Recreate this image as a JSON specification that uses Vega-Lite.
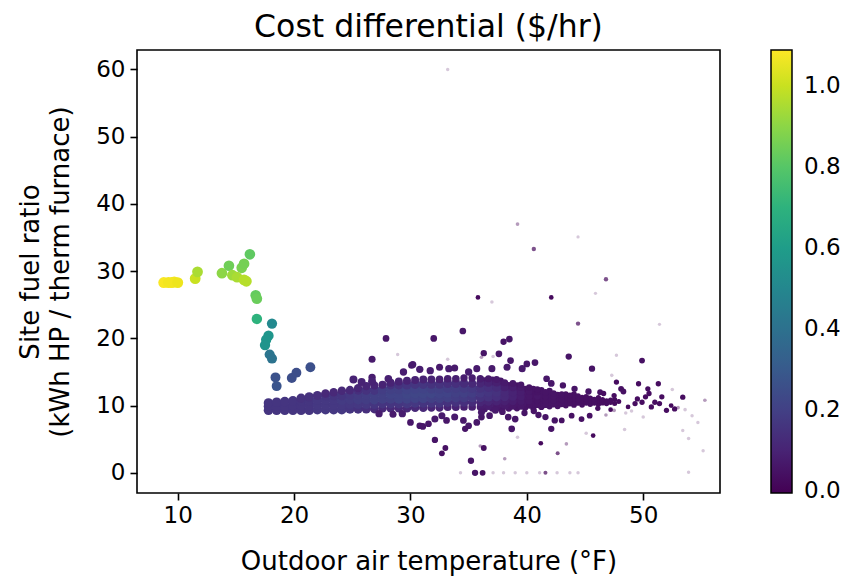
{
"$schema":"https://vega.github.io/schema/vega-lite/v6.json",
"autosize":{"type":"none"},
"width":583,"height":443,
"padding":{"left":137,"top":50,"right":134,"bottom":85},
"background":"white",
"title":{"text":"Cost differential ($/hr)","font":"DejaVu Sans","fontSize":31.5,"fontWeight":"normal","color":"black","anchor":"middle","offset":7},
"config":{
"view":{"stroke":"black","strokeWidth":1.6},
"axis":{"labelFont":"DejaVu Sans","titleFont":"DejaVu Sans","labelFontSize":23,"titleFontSize":26,"titleFontWeight":"normal","labelColor":"black","titleColor":"black","tickColor":"black","tickSize":7,"tickWidth":1.6,"domain":false,"grid":false},
"legend":{"labelFont":"DejaVu Sans","labelFontSize":23,"labelColor":"black"}
},
"data":{"values":[
{"temp":36.35,"ratio":9.5,"cost":0.07},{"temp":36.35,"ratio":10.2,"cost":0.09},{"temp":36.35,"ratio":10.9,"cost":0.13},{"temp":36.35,"ratio":11.6,"cost":0.15},{"temp":36.35,"ratio":12.3,"cost":0.13},{"temp":36.35,"ratio":13.0,"cost":0.09},{"temp":36.35,"ratio":13.7,"cost":0.07},
{"temp":37.05,"ratio":9.6,"cost":0.07},{"temp":37.05,"ratio":10.3,"cost":0.09},{"temp":37.05,"ratio":11.0,"cost":0.12},{"temp":37.05,"ratio":11.7,"cost":0.14},{"temp":37.05,"ratio":12.4,"cost":0.12},{"temp":37.05,"ratio":13.1,"cost":0.08},{"temp":37.05,"ratio":13.8,"cost":0.07},
{"temp":37.75,"ratio":9.6,"cost":0.06},{"temp":37.75,"ratio":10.3,"cost":0.08},{"temp":37.75,"ratio":11.0,"cost":0.11},{"temp":37.75,"ratio":11.7,"cost":0.12},{"temp":37.75,"ratio":12.4,"cost":0.1},{"temp":37.75,"ratio":13.1,"cost":0.07},{"temp":37.75,"ratio":13.7,"cost":0.06},
{"temp":38.45,"ratio":9.6,"cost":0.06},{"temp":38.45,"ratio":10.3,"cost":0.07},{"temp":38.45,"ratio":11.0,"cost":0.09},{"temp":38.45,"ratio":11.7,"cost":0.1},{"temp":38.45,"ratio":12.4,"cost":0.08},{"temp":38.45,"ratio":13.0,"cost":0.06},
{"temp":39.15,"ratio":9.6,"cost":0.05},{"temp":39.15,"ratio":10.3,"cost":0.06},{"temp":39.15,"ratio":11.0,"cost":0.07},{"temp":39.15,"ratio":11.7,"cost":0.08},{"temp":39.15,"ratio":12.4,"cost":0.07},{"temp":39.15,"ratio":13.0,"cost":0.05},
{"temp":39.85,"ratio":9.7,"cost":0.05},{"temp":39.85,"ratio":10.4,"cost":0.06},{"temp":39.85,"ratio":11.1,"cost":0.06},{"temp":39.85,"ratio":11.8,"cost":0.06},{"temp":39.85,"ratio":12.5,"cost":0.05},
{"temp":40.55,"ratio":9.7,"cost":0.05},{"temp":40.55,"ratio":10.4,"cost":0.05},{"temp":40.55,"ratio":11.1,"cost":0.05},{"temp":40.55,"ratio":11.8,"cost":0.05},{"temp":40.55,"ratio":12.5,"cost":0.05},
{"temp":41.25,"ratio":9.8,"cost":0.05},{"temp":41.25,"ratio":10.4,"cost":0.05},{"temp":41.25,"ratio":11.1,"cost":0.05},{"temp":41.25,"ratio":11.7,"cost":0.05},{"temp":41.25,"ratio":12.3,"cost":0.05},
{"temp":41.95,"ratio":9.9,"cost":0.05},{"temp":41.95,"ratio":10.5,"cost":0.05},{"temp":41.95,"ratio":11.1,"cost":0.05},{"temp":41.95,"ratio":11.7,"cost":0.05},{"temp":41.95,"ratio":12.2,"cost":0.05},
{"temp":42.65,"ratio":9.9,"cost":0.045},{"temp":42.65,"ratio":10.5,"cost":0.045},{"temp":42.65,"ratio":11.1,"cost":0.045},{"temp":42.65,"ratio":11.6,"cost":0.045},
{"temp":43.35,"ratio":10.0,"cost":0.04},{"temp":43.35,"ratio":10.6,"cost":0.04},{"temp":43.35,"ratio":11.2,"cost":0.04},{"temp":43.35,"ratio":11.7,"cost":0.04},
{"temp":44.05,"ratio":10.1,"cost":0.04},{"temp":44.05,"ratio":10.6,"cost":0.04},{"temp":44.05,"ratio":11.1,"cost":0.04},{"temp":44.05,"ratio":11.7,"cost":0.04},
{"temp":44.75,"ratio":10.1,"cost":0.035},{"temp":44.75,"ratio":10.7,"cost":0.035},{"temp":44.75,"ratio":11.2,"cost":0.035},
{"temp":45.45,"ratio":10.2,"cost":0.035},{"temp":45.45,"ratio":10.7,"cost":0.035},{"temp":45.45,"ratio":11.1,"cost":0.035},
{"temp":46.15,"ratio":10.2,"cost":0.03},{"temp":46.15,"ratio":10.7,"cost":0.03},{"temp":46.15,"ratio":11.2,"cost":0.03},
{"temp":46.85,"ratio":10.3,"cost":0.03},{"temp":46.85,"ratio":10.7,"cost":0.03},
{"temp":47.55,"ratio":10.3,"cost":0.025},{"temp":47.55,"ratio":10.9,"cost":0.025},
{"temp":17.8,"ratio":9.3,"cost":0.16},{"temp":17.8,"ratio":9.9,"cost":0.16},{"temp":17.8,"ratio":10.4,"cost":0.16},
{"temp":18.5,"ratio":9.3,"cost":0.16},{"temp":18.5,"ratio":9.9,"cost":0.16},{"temp":18.5,"ratio":10.5,"cost":0.16},
{"temp":19.2,"ratio":9.3,"cost":0.16},{"temp":19.2,"ratio":9.9,"cost":0.16},{"temp":19.2,"ratio":10.6,"cost":0.16},
{"temp":19.9,"ratio":9.3,"cost":0.16},{"temp":19.9,"ratio":10.0,"cost":0.16},{"temp":19.9,"ratio":10.7,"cost":0.16},
{"temp":20.6,"ratio":9.3,"cost":0.16},{"temp":20.6,"ratio":10.0,"cost":0.16},{"temp":20.6,"ratio":10.7,"cost":0.16},{"temp":20.6,"ratio":11.1,"cost":0.15},
{"temp":21.3,"ratio":9.3,"cost":0.16},{"temp":21.3,"ratio":10.0,"cost":0.16},{"temp":21.3,"ratio":10.7,"cost":0.16},{"temp":21.3,"ratio":11.3,"cost":0.15},
{"temp":22.0,"ratio":9.4,"cost":0.17},{"temp":22.0,"ratio":10.1,"cost":0.17},{"temp":22.0,"ratio":10.8,"cost":0.17},{"temp":22.0,"ratio":11.5,"cost":0.14},
{"temp":22.7,"ratio":9.4,"cost":0.17},{"temp":22.7,"ratio":10.1,"cost":0.17},{"temp":22.7,"ratio":10.8,"cost":0.17},{"temp":22.7,"ratio":11.5,"cost":0.16},{"temp":22.7,"ratio":11.8,"cost":0.12},
{"temp":23.4,"ratio":9.4,"cost":0.17},{"temp":23.4,"ratio":10.1,"cost":0.17},{"temp":23.4,"ratio":10.8,"cost":0.17},{"temp":23.4,"ratio":11.5,"cost":0.16},{"temp":23.4,"ratio":12.0,"cost":0.12},
{"temp":24.1,"ratio":9.4,"cost":0.17},{"temp":24.1,"ratio":10.1,"cost":0.17},{"temp":24.1,"ratio":10.8,"cost":0.18},{"temp":24.1,"ratio":11.5,"cost":0.16},{"temp":24.1,"ratio":12.2,"cost":0.12},
{"temp":24.8,"ratio":9.5,"cost":0.16},{"temp":24.8,"ratio":10.2,"cost":0.17},{"temp":24.8,"ratio":10.9,"cost":0.18},{"temp":24.8,"ratio":11.6,"cost":0.17},{"temp":24.8,"ratio":12.3,"cost":0.12},
{"temp":25.5,"ratio":9.5,"cost":0.15},{"temp":25.5,"ratio":10.2,"cost":0.17},{"temp":25.5,"ratio":10.9,"cost":0.19},{"temp":25.5,"ratio":11.6,"cost":0.18},{"temp":25.5,"ratio":12.3,"cost":0.14},{"temp":25.5,"ratio":12.6,"cost":0.11},
{"temp":26.2,"ratio":9.5,"cost":0.14},{"temp":26.2,"ratio":10.2,"cost":0.17},{"temp":26.2,"ratio":10.9,"cost":0.19},{"temp":26.2,"ratio":11.6,"cost":0.19},{"temp":26.2,"ratio":12.3,"cost":0.15},{"temp":26.2,"ratio":12.9,"cost":0.11},
{"temp":26.9,"ratio":9.5,"cost":0.13},{"temp":26.9,"ratio":10.2,"cost":0.16},{"temp":26.9,"ratio":10.9,"cost":0.2},{"temp":26.9,"ratio":11.6,"cost":0.2},{"temp":26.9,"ratio":12.3,"cost":0.16},{"temp":26.9,"ratio":13.0,"cost":0.11},
{"temp":27.6,"ratio":9.6,"cost":0.12},{"temp":27.6,"ratio":10.3,"cost":0.16},{"temp":27.6,"ratio":11.0,"cost":0.2},{"temp":27.6,"ratio":11.7,"cost":0.2},{"temp":27.6,"ratio":12.4,"cost":0.19},{"temp":27.6,"ratio":13.1,"cost":0.1},
{"temp":28.3,"ratio":9.6,"cost":0.12},{"temp":28.3,"ratio":10.3,"cost":0.16},{"temp":28.3,"ratio":11.0,"cost":0.2},{"temp":28.3,"ratio":11.7,"cost":0.21},{"temp":28.3,"ratio":12.4,"cost":0.2},{"temp":28.3,"ratio":13.1,"cost":0.15},{"temp":28.3,"ratio":13.4,"cost":0.1},
{"temp":29.0,"ratio":9.6,"cost":0.12},{"temp":29.0,"ratio":10.3,"cost":0.16},{"temp":29.0,"ratio":11.0,"cost":0.21},{"temp":29.0,"ratio":11.7,"cost":0.21},{"temp":29.0,"ratio":12.4,"cost":0.2},{"temp":29.0,"ratio":13.1,"cost":0.15},{"temp":29.0,"ratio":13.6,"cost":0.1},
{"temp":29.7,"ratio":9.6,"cost":0.12},{"temp":29.7,"ratio":10.3,"cost":0.17},{"temp":29.7,"ratio":11.0,"cost":0.21},{"temp":29.7,"ratio":11.7,"cost":0.22},{"temp":29.7,"ratio":12.4,"cost":0.21},{"temp":29.7,"ratio":13.1,"cost":0.16},{"temp":29.7,"ratio":13.7,"cost":0.1},
{"temp":30.4,"ratio":9.7,"cost":0.12},{"temp":30.4,"ratio":10.4,"cost":0.17},{"temp":30.4,"ratio":11.1,"cost":0.21},{"temp":30.4,"ratio":11.8,"cost":0.22},{"temp":30.4,"ratio":12.5,"cost":0.21},{"temp":30.4,"ratio":13.2,"cost":0.16},{"temp":30.4,"ratio":13.8,"cost":0.1},
{"temp":31.1,"ratio":9.7,"cost":0.12},{"temp":31.1,"ratio":10.4,"cost":0.16},{"temp":31.1,"ratio":11.1,"cost":0.21},{"temp":31.1,"ratio":11.8,"cost":0.22},{"temp":31.1,"ratio":12.5,"cost":0.21},{"temp":31.1,"ratio":13.2,"cost":0.16},{"temp":31.1,"ratio":13.9,"cost":0.1},
{"temp":31.8,"ratio":9.7,"cost":0.11},{"temp":31.8,"ratio":10.4,"cost":0.16},{"temp":31.8,"ratio":11.1,"cost":0.2},{"temp":31.8,"ratio":11.8,"cost":0.22},{"temp":31.8,"ratio":12.5,"cost":0.2},{"temp":31.8,"ratio":13.2,"cost":0.15},{"temp":31.8,"ratio":13.9,"cost":0.1},
{"temp":32.5,"ratio":9.7,"cost":0.11},{"temp":32.5,"ratio":10.4,"cost":0.16},{"temp":32.5,"ratio":11.1,"cost":0.2},{"temp":32.5,"ratio":11.8,"cost":0.21},{"temp":32.5,"ratio":12.5,"cost":0.2},{"temp":32.5,"ratio":13.2,"cost":0.15},{"temp":32.5,"ratio":13.9,"cost":0.09},
{"temp":33.2,"ratio":9.8,"cost":0.1},{"temp":33.2,"ratio":10.5,"cost":0.15},{"temp":33.2,"ratio":11.2,"cost":0.2},{"temp":33.2,"ratio":11.9,"cost":0.21},{"temp":33.2,"ratio":12.6,"cost":0.19},{"temp":33.2,"ratio":13.3,"cost":0.14},{"temp":33.2,"ratio":14.0,"cost":0.09},
{"temp":33.9,"ratio":9.8,"cost":0.1},{"temp":33.9,"ratio":10.5,"cost":0.15},{"temp":33.9,"ratio":11.2,"cost":0.19},{"temp":33.9,"ratio":11.9,"cost":0.2},{"temp":33.9,"ratio":12.6,"cost":0.19},{"temp":33.9,"ratio":13.3,"cost":0.14},{"temp":33.9,"ratio":14.0,"cost":0.09},
{"temp":34.6,"ratio":9.8,"cost":0.09},{"temp":34.6,"ratio":10.5,"cost":0.14},{"temp":34.6,"ratio":11.2,"cost":0.18},{"temp":34.6,"ratio":11.9,"cost":0.2},{"temp":34.6,"ratio":12.6,"cost":0.18},{"temp":34.6,"ratio":13.3,"cost":0.13},{"temp":34.6,"ratio":14.1,"cost":0.08},
{"temp":35.3,"ratio":9.8,"cost":0.09},{"temp":35.3,"ratio":10.5,"cost":0.13},{"temp":35.3,"ratio":11.2,"cost":0.17},{"temp":35.3,"ratio":11.9,"cost":0.19},{"temp":35.3,"ratio":12.6,"cost":0.17},{"temp":35.3,"ratio":13.3,"cost":0.12},{"temp":35.3,"ratio":14.1,"cost":0.08},
{"temp":36.0,"ratio":9.8,"cost":0.08},{"temp":36.0,"ratio":10.5,"cost":0.11},{"temp":36.0,"ratio":11.2,"cost":0.15},{"temp":36.0,"ratio":11.9,"cost":0.17},{"temp":36.0,"ratio":12.6,"cost":0.15},{"temp":36.0,"ratio":13.3,"cost":0.11},{"temp":36.0,"ratio":14.0,"cost":0.08},
{"temp":36.7,"ratio":9.9,"cost":0.08},{"temp":36.7,"ratio":10.6,"cost":0.11},{"temp":36.7,"ratio":11.3,"cost":0.15},{"temp":36.7,"ratio":12.0,"cost":0.16},{"temp":36.7,"ratio":12.7,"cost":0.14},{"temp":36.7,"ratio":13.4,"cost":0.1},{"temp":36.7,"ratio":14.0,"cost":0.07},
{"temp":37.4,"ratio":9.9,"cost":0.07},{"temp":37.4,"ratio":10.6,"cost":0.1},{"temp":37.4,"ratio":11.3,"cost":0.14},{"temp":37.4,"ratio":12.0,"cost":0.15},{"temp":37.4,"ratio":12.7,"cost":0.13},{"temp":37.4,"ratio":13.4,"cost":0.09},{"temp":37.4,"ratio":13.9,"cost":0.07},
{"temp":38.1,"ratio":9.9,"cost":0.07},{"temp":38.1,"ratio":10.6,"cost":0.09},{"temp":38.1,"ratio":11.3,"cost":0.12},{"temp":38.1,"ratio":12.0,"cost":0.12},{"temp":38.1,"ratio":12.7,"cost":0.09},{"temp":38.1,"ratio":13.4,"cost":0.07},
{"temp":38.8,"ratio":9.9,"cost":0.06},{"temp":38.8,"ratio":10.6,"cost":0.08},{"temp":38.8,"ratio":11.3,"cost":0.1},{"temp":38.8,"ratio":12.0,"cost":0.1},{"temp":38.8,"ratio":12.7,"cost":0.08},{"temp":38.8,"ratio":13.3,"cost":0.06},
{"temp":39.5,"ratio":9.9,"cost":0.06},{"temp":39.5,"ratio":10.6,"cost":0.07},{"temp":39.5,"ratio":11.3,"cost":0.08},{"temp":39.5,"ratio":12.0,"cost":0.08},{"temp":39.5,"ratio":12.7,"cost":0.07},{"temp":39.5,"ratio":13.1,"cost":0.06},
{"temp":40.2,"ratio":10.0,"cost":0.05},{"temp":40.2,"ratio":10.7,"cost":0.06},{"temp":40.2,"ratio":11.4,"cost":0.06},{"temp":40.2,"ratio":12.1,"cost":0.06},{"temp":40.2,"ratio":12.7,"cost":0.05},
{"temp":40.9,"ratio":10.1,"cost":0.05},{"temp":40.9,"ratio":10.7,"cost":0.05},{"temp":40.9,"ratio":11.4,"cost":0.06},{"temp":40.9,"ratio":12.0,"cost":0.05},{"temp":40.9,"ratio":12.4,"cost":0.05},
{"temp":41.6,"ratio":10.1,"cost":0.05},{"temp":41.6,"ratio":10.7,"cost":0.05},{"temp":41.6,"ratio":11.4,"cost":0.05},{"temp":41.6,"ratio":12.0,"cost":0.05},
{"temp":42.3,"ratio":10.2,"cost":0.05},{"temp":42.3,"ratio":10.8,"cost":0.05},{"temp":42.3,"ratio":11.4,"cost":0.05},{"temp":42.3,"ratio":11.8,"cost":0.05},
{"temp":43.0,"ratio":10.2,"cost":0.045},{"temp":43.0,"ratio":10.8,"cost":0.045},{"temp":43.0,"ratio":11.4,"cost":0.045},{"temp":43.0,"ratio":11.7,"cost":0.045},
{"temp":43.7,"ratio":10.3,"cost":0.04},{"temp":43.7,"ratio":10.9,"cost":0.04},{"temp":43.7,"ratio":11.5,"cost":0.04},
{"temp":44.4,"ratio":10.4,"cost":0.04},{"temp":44.4,"ratio":10.9,"cost":0.04},{"temp":44.4,"ratio":11.4,"cost":0.04},
{"temp":45.1,"ratio":10.4,"cost":0.035},{"temp":45.1,"ratio":10.9,"cost":0.035},{"temp":45.1,"ratio":11.3,"cost":0.035},
{"temp":45.8,"ratio":10.4,"cost":0.035},{"temp":45.8,"ratio":10.9,"cost":0.035},
{"temp":46.5,"ratio":10.4,"cost":0.03},{"temp":46.5,"ratio":10.9,"cost":0.03},
{"temp":47.2,"ratio":10.5,"cost":0.03},{"temp":47.2,"ratio":10.8,"cost":0.03},
{"temp":47.9,"ratio":10.6,"cost":0.025},
{"temp":25.1,"ratio":13.9,"cost":0.1},{"temp":25.8,"ratio":13.5,"cost":0.1},{"temp":26.7,"ratio":14.2,"cost":0.08},{"temp":26.7,"ratio":13.6,"cost":0.1},{"temp":28.1,"ratio":14.0,"cost":0.09},
{"temp":29.4,"ratio":15.0,"cost":0.08},{"temp":30.1,"ratio":16.0,"cost":0.07},{"temp":30.8,"ratio":15.4,"cost":0.08},{"temp":31.7,"ratio":15.2,"cost":0.08},{"temp":32.5,"ratio":15.7,"cost":0.07},
{"temp":33.3,"ratio":15.5,"cost":0.08},{"temp":33.8,"ratio":15.6,"cost":0.07},{"temp":35.0,"ratio":15.0,"cost":0.08},{"temp":35.7,"ratio":15.5,"cost":0.07},{"temp":37.0,"ratio":15.5,"cost":0.07},
{"temp":38.3,"ratio":15.7,"cost":0.07},{"temp":39.6,"ratio":15.5,"cost":0.07},{"temp":40.0,"ratio":16.2,"cost":0.06},{"temp":38.6,"ratio":16.7,"cost":0.06},{"temp":40.7,"ratio":16.4,"cost":0.06},
{"temp":41.7,"ratio":14.0,"cost":0.06},{"temp":42.1,"ratio":13.3,"cost":0.06},{"temp":43.1,"ratio":13.0,"cost":0.05},{"temp":44.1,"ratio":12.5,"cost":0.05},{"temp":45.6,"ratio":15.5,"cost":0.05},
{"temp":45.3,"ratio":12.1,"cost":0.05},{"temp":46.3,"ratio":12.0,"cost":0.04},{"temp":48.1,"ratio":12.5,"cost":0.04},{"temp":48.3,"ratio":12.1,"cost":0.04},{"temp":49.6,"ratio":13.25,"cost":0.03},
{"temp":49.9,"ratio":16.7,"cost":0.04},{"temp":50.4,"ratio":12.5,"cost":0.03},{"temp":51.3,"ratio":13.25,"cost":0.03},{"temp":51.0,"ratio":10.5,"cost":0.03},{"temp":51.4,"ratio":10.3,"cost":0.03},
{"temp":49.3,"ratio":10.3,"cost":0.03},{"temp":49.9,"ratio":10.5,"cost":0.03},{"temp":52.4,"ratio":10.0,"cost":0.02},{"temp":53.4,"ratio":11.25,"cost":0.03},{"temp":55.3,"ratio":10.8,"cost":0.005},
{"temp":47.7,"ratio":13.5,"cost":0.03},{"temp":51.6,"ratio":11.3,"cost":0.03},{"temp":50.5,"ratio":11.8,"cost":0.03},{"temp":50.7,"ratio":9.8,"cost":0.03},{"temp":52.0,"ratio":9.3,"cost":0.03},
{"temp":52.7,"ratio":9.5,"cost":0.03},{"temp":46.1,"ratio":9.6,"cost":0.03},{"temp":47.2,"ratio":9.4,"cost":0.02},{"temp":48.7,"ratio":9.8,"cost":0.02},{"temp":49.5,"ratio":11.0,"cost":0.03},
{"temp":50.2,"ratio":11.3,"cost":0.03},{"temp":46.6,"ratio":11.8,"cost":0.03},{"temp":47.5,"ratio":11.5,"cost":0.03},
{"temp":26.7,"ratio":16.9,"cost":0.07},{"temp":27.9,"ratio":20.0,"cost":0.06},{"temp":32.0,"ratio":20.0,"cost":0.06},{"temp":34.5,"ratio":21.1,"cost":0.06},{"temp":38.0,"ratio":19.5,"cost":0.05},
{"temp":38.5,"ratio":19.9,"cost":0.06},{"temp":36.3,"ratio":17.8,"cost":0.05},{"temp":37.6,"ratio":17.7,"cost":0.06},{"temp":43.6,"ratio":17.3,"cost":0.05},{"temp":30.2,"ratio":16.1,"cost":0.07},
{"temp":28.9,"ratio":17.6,"cost":0.003},{"temp":33.2,"ratio":16.9,"cost":0.004},{"temp":37.1,"ratio":17.3,"cost":0.004},{"temp":47.7,"ratio":17.5,"cost":0.003},{"temp":36.1,"ratio":17.2,"cost":0.005},{"temp":47.3,"ratio":14.5,"cost":0.004},
{"temp":33.2,"ratio":60.0,"cost":0.003},{"temp":39.2,"ratio":37.0,"cost":0.006},{"temp":40.6,"ratio":33.3,"cost":0.015},{"temp":44.4,"ratio":35.1,"cost":0.002},{"temp":46.8,"ratio":28.8,"cost":0.015},
{"temp":45.9,"ratio":26.7,"cost":0.002},{"temp":35.8,"ratio":26.1,"cost":0.02},{"temp":37.0,"ratio":25.4,"cost":0.004},{"temp":42.1,"ratio":26.1,"cost":0.02},{"temp":44.4,"ratio":22.2,"cost":0.015},{"temp":51.4,"ratio":22.1,"cost":0.002},
{"temp":29.3,"ratio":8.8,"cost":0.08},{"temp":30.0,"ratio":7.5,"cost":0.06},{"temp":30.8,"ratio":7.0,"cost":0.06},{"temp":31.55,"ratio":7.3,"cost":0.06},{"temp":32.1,"ratio":8.0,"cost":0.07},
{"temp":32.7,"ratio":8.5,"cost":0.07},{"temp":33.1,"ratio":7.8,"cost":0.06},{"temp":33.8,"ratio":8.3,"cost":0.07},{"temp":34.55,"ratio":7.8,"cost":0.06},{"temp":35.0,"ratio":7.0,"cost":0.06},
{"temp":35.7,"ratio":7.5,"cost":0.06},{"temp":36.1,"ratio":8.3,"cost":0.06},{"temp":34.7,"ratio":6.55,"cost":0.05},{"temp":36.1,"ratio":9.0,"cost":0.07},{"temp":36.8,"ratio":8.5,"cost":0.06},
{"temp":37.3,"ratio":9.3,"cost":0.07},{"temp":38.4,"ratio":8.3,"cost":0.06},{"temp":39.0,"ratio":8.0,"cost":0.06},{"temp":41.6,"ratio":8.3,"cost":0.05},{"temp":42.4,"ratio":7.8,"cost":0.05},
{"temp":43.85,"ratio":8.5,"cost":0.04},{"temp":44.7,"ratio":8.0,"cost":0.04},{"temp":45.4,"ratio":8.5,"cost":0.04},{"temp":38.7,"ratio":6.55,"cost":0.06},{"temp":42.1,"ratio":6.55,"cost":0.05},
{"temp":43.0,"ratio":7.8,"cost":0.04},{"temp":31.06,"ratio":6.9,"cost":0.06},{"temp":28.5,"ratio":8.7,"cost":0.07},{"temp":27.3,"ratio":8.8,"cost":0.08},{"temp":39.8,"ratio":8.9,"cost":0.05},
{"temp":40.6,"ratio":9.2,"cost":0.05},{"temp":41.0,"ratio":8.6,"cost":0.05},{"temp":37.9,"ratio":9.1,"cost":0.06},
{"temp":32.1,"ratio":4.9,"cost":0.05},{"temp":33.0,"ratio":3.7,"cost":0.04},{"temp":32.7,"ratio":2.9,"cost":0.04},{"temp":35.2,"ratio":1.8,"cost":0.05},{"temp":36.3,"ratio":3.7,"cost":0.04},
{"temp":36.0,"ratio":4.0,"cost":0.005},{"temp":38.1,"ratio":2.1,"cost":0.005},{"temp":41.2,"ratio":4.4,"cost":0.02},{"temp":42.65,"ratio":2.9,"cost":0.01},{"temp":43.4,"ratio":4.3,"cost":0.005},
{"temp":45.7,"ratio":5.55,"cost":0.02},{"temp":48.4,"ratio":6.45,"cost":0.004},{"temp":45.1,"ratio":5.9,"cost":0.004},{"temp":39.2,"ratio":5.3,"cost":0.004},
{"temp":34.3,"ratio":0,"cost":0.003},{"temp":35.55,"ratio":0,"cost":0.05},{"temp":36.2,"ratio":0,"cost":0.04},{"temp":37.1,"ratio":0,"cost":0.003},{"temp":38.0,"ratio":0,"cost":0.003},
{"temp":39.0,"ratio":0,"cost":0.003},{"temp":40.0,"ratio":0,"cost":0.003},{"temp":41.1,"ratio":0,"cost":0.003},{"temp":41.6,"ratio":0,"cost":0.01},{"temp":42.6,"ratio":0,"cost":0.003},
{"temp":43.7,"ratio":0,"cost":0.003},{"temp":44.4,"ratio":0,"cost":0.003},{"temp":53.9,"ratio":0.1,"cost":0.003},
{"temp":54.7,"ratio":7.5,"cost":0.003},{"temp":53.4,"ratio":6.3,"cost":0.003},{"temp":53.9,"ratio":5.1,"cost":0.004},{"temp":55.15,"ratio":3.3,"cost":0.003},{"temp":53.0,"ratio":9.7,"cost":0.005},
{"temp":53.6,"ratio":9.4,"cost":0.004},{"temp":54.2,"ratio":8.5,"cost":0.003},{"temp":52.5,"ratio":12.4,"cost":0.004},{"temp":49.0,"ratio":9.2,"cost":0.004},{"temp":48.5,"ratio":8.9,"cost":0.004},
{"temp":50.0,"ratio":8.3,"cost":0.004},{"temp":46.8,"ratio":8.6,"cost":0.005},{"temp":47.5,"ratio":9.3,"cost":0.006},
{"temp":8.8,"ratio":28.3,"cost":1.08},{"temp":9.2,"ratio":28.3,"cost":1.07},{"temp":9.5,"ratio":28.3,"cost":1.07},{"temp":9.7,"ratio":28.4,"cost":1.07},{"temp":10.0,"ratio":28.3,"cost":1.06},
{"temp":11.5,"ratio":28.9,"cost":1.0},{"temp":11.7,"ratio":29.9,"cost":0.95},{"temp":13.8,"ratio":29.7,"cost":0.9},{"temp":14.4,"ratio":30.8,"cost":0.85},{"temp":14.7,"ratio":29.4,"cost":0.93},
{"temp":15.1,"ratio":29.1,"cost":0.95},{"temp":15.5,"ratio":30.5,"cost":0.87},{"temp":15.7,"ratio":31.1,"cost":0.86},{"temp":15.7,"ratio":28.7,"cost":0.97},{"temp":15.9,"ratio":28.5,"cost":0.97},
{"temp":16.2,"ratio":32.5,"cost":0.82},{"temp":16.7,"ratio":26.4,"cost":0.83},{"temp":16.8,"ratio":25.9,"cost":0.84},{"temp":16.8,"ratio":22.9,"cost":0.7},{"temp":18.1,"ratio":22.2,"cost":0.51},
{"temp":17.8,"ratio":20.4,"cost":0.57},{"temp":17.6,"ratio":19.8,"cost":0.57},{"temp":17.5,"ratio":19.0,"cost":0.56},{"temp":17.9,"ratio":17.6,"cost":0.42},{"temp":18.1,"ratio":17.0,"cost":0.41},
{"temp":18.4,"ratio":14.2,"cost":0.27},{"temp":18.5,"ratio":12.9,"cost":0.28},{"temp":19.8,"ratio":14.1,"cost":0.25},{"temp":20.2,"ratio":14.9,"cost":0.25},{"temp":21.4,"ratio":15.7,"cost":0.26}
]},
"mark":{"type":"circle","filled":true},
"encoding":{
"x":{"field":"temp","type":"quantitative","scale":{"domain":[6.5,56.6],"nice":false,"zero":false},"axis":{"values":[10,20,30,40,50],"title":"Outdoor air temperature (°F)","labelPadding":4,"titlePadding":21}},
"y":{"field":"ratio","type":"quantitative","scale":{"domain":[-3.0,62.9],"nice":false,"zero":false},"axis":{"values":[0,10,20,30,40,50,60],"title":["Site fuel ratio","(kWh HP / therm furnace)"],"labelPadding":5,"titlePadding":22,"titleLineHeight":30}},
"color":{"field":"cost","type":"quantitative","scale":{"scheme":"viridis","domain":[-0.004,1.088],"nice":false,"zero":false},"legend":{"type":"gradient","orient":"none","legendX":634,"legendY":0,"direction":"vertical","gradientLength":443,"gradientThickness":21,"title":null,"values":[0,0.2,0.4,0.6,0.8,1.0],"format":".1f","labelOffset":12,"gradientStrokeColor":"black","gradientStrokeWidth":1.5,"labelOverlap":false}},
"size":{"field":"cost","type":"quantitative","scale":{"type":"linear","domain":[0,0.003,0.05,0.16,0.3,1.088],"range":[8,12,40,92,100,120]},"legend":null},
"opacity":{"condition":[{"test":"datum.cost < 0.0045","value":0.22},{"test":"datum.cost < 0.008","value":0.4},{"test":"datum.cost < 0.018","value":0.7}],"value":1}
}
}
